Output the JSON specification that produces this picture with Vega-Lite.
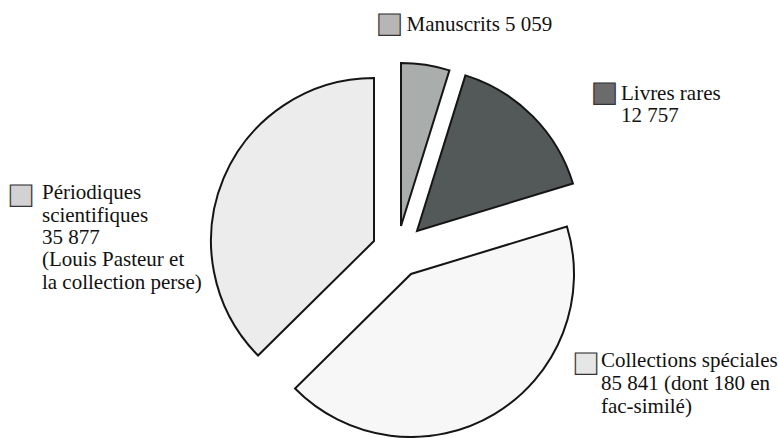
{
  "$schema": "https://vega.github.io/schema/vega-lite/v6.json",
  "width": 764,
  "height": 374,
  "autosize": {"type": "none"},
  "padding": {"left": 15, "top": 64, "right": 0, "bottom": 0},
  "background": "#ffffff",
  "config": {"view": {"stroke": null}},
  "datasets": {
    "fonds": [
      {"categorie": "Manuscrits", "valeur": 5059, "part": 4.8, "ordre": 1, "libelle": "Manuscrits 5 059"},
      {"categorie": "Livres rares", "valeur": 12757, "part": 15.5, "ordre": 2, "libelle": "Livres rares\n12 757"},
      {"categorie": "Collections spéciales", "valeur": 85841, "part": 42.3, "ordre": 3, "libelle": "Collections spéciales\n85 841 (dont 180 en\nfac-similé)"},
      {"categorie": "Périodiques scientifiques", "valeur": 35877, "part": 37.4, "ordre": 4, "libelle": "Périodiques\nscientifiques\n35 877\n(Louis Pasteur et\nla collection perse)"}
    ]
  },
  "data": {"name": "fonds"},
  "layer": [
    {
      "transform": [
        {"stack": "part", "groupby": [], "sort": [{"field": "ordre", "order": "ascending"}], "as": ["t0", "t1"]},
        {"filter": "datum.categorie === 'Manuscrits'"}
      ],
      "mark": {"type": "arc", "outerRadius": 163, "xOffset": 4, "yOffset": -25, "fill": "#a9adab", "stroke": "#151515", "strokeWidth": 2},
      "encoding": {
        "theta": {"field": "t0", "type": "quantitative", "scale": {"domain": [0, 100]}},
        "theta2": {"field": "t1"}
      }
    },
    {
      "transform": [
        {"stack": "part", "groupby": [], "sort": [{"field": "ordre", "order": "ascending"}], "as": ["t0", "t1"]},
        {"filter": "datum.categorie === 'Livres rares'"}
      ],
      "mark": {"type": "arc", "outerRadius": 163, "xOffset": 20, "yOffset": -20, "fill": "#535958", "stroke": "#151515", "strokeWidth": 2},
      "encoding": {
        "theta": {"field": "t0", "type": "quantitative", "scale": {"domain": [0, 100]}},
        "theta2": {"field": "t1"}
      }
    },
    {
      "transform": [
        {"stack": "part", "groupby": [], "sort": [{"field": "ordre", "order": "ascending"}], "as": ["t0", "t1"]},
        {"filter": "datum.categorie === 'Collections spéciales'"}
      ],
      "mark": {"type": "arc", "outerRadius": 163, "xOffset": 14, "yOffset": 23, "fill": "#f7f7f7", "stroke": "#151515", "strokeWidth": 2},
      "encoding": {
        "theta": {"field": "t0", "type": "quantitative", "scale": {"domain": [0, 100]}},
        "theta2": {"field": "t1"}
      }
    },
    {
      "transform": [
        {"stack": "part", "groupby": [], "sort": [{"field": "ordre", "order": "ascending"}], "as": ["t0", "t1"]},
        {"filter": "datum.categorie === 'Périodiques scientifiques'"}
      ],
      "mark": {"type": "arc", "outerRadius": 163, "xOffset": -23, "yOffset": -10, "fill": "#ececec", "stroke": "#151515", "strokeWidth": 2},
      "encoding": {
        "theta": {"field": "t0", "type": "quantitative", "scale": {"domain": [0, 100]}},
        "theta2": {"field": "t1"}
      }
    },
    {
      "mark": {"type": "text", "radius": 200, "text": "■", "font": "DejaVu Sans", "fontSize": 28, "align": "center", "baseline": "middle", "dx": -37.5, "dy": -28.8, "fill": "#b6b6b6", "stroke": "#333333", "strokeWidth": 1.2},
      "encoding": {
        "theta": {"field": "part", "type": "quantitative", "stack": true, "scale": {"domain": [0, 100]}},
        "order": {"field": "ordre"},
        "opacity": {"condition": {"test": "datum.categorie === 'Manuscrits'", "value": 1}, "value": 0}
      }
    },
    {
      "mark": {"type": "text", "radius": 200, "text": "■", "font": "DejaVu Sans", "fontSize": 28, "align": "center", "baseline": "middle", "dx": 65.6, "dy": -17.2, "fill": "#6b6b6b", "stroke": "#333333", "strokeWidth": 1.2},
      "encoding": {
        "theta": {"field": "part", "type": "quantitative", "stack": true, "scale": {"domain": [0, 100]}},
        "order": {"field": "ordre"},
        "opacity": {"condition": {"test": "datum.categorie === 'Livres rares'", "value": 1}, "value": 0}
      }
    },
    {
      "mark": {"type": "text", "radius": 200, "text": "■", "font": "DejaVu Sans", "fontSize": 28, "align": "center", "baseline": "middle", "dx": 86.6, "dy": -60.3, "fill": "#e6e6e6", "stroke": "#333333", "strokeWidth": 1.2},
      "encoding": {
        "theta": {"field": "part", "type": "quantitative", "stack": true, "scale": {"domain": [0, 100]}},
        "order": {"field": "ordre"},
        "opacity": {"condition": {"test": "datum.categorie === 'Collections spéciales'", "value": 1}, "value": 0}
      }
    },
    {
      "mark": {"type": "text", "radius": 200, "text": "■", "font": "DejaVu Sans", "fontSize": 28, "align": "center", "baseline": "middle", "dx": -191.5, "dy": 21.6, "fill": "#d2d2d2", "stroke": "#333333", "strokeWidth": 1.2},
      "encoding": {
        "theta": {"field": "part", "type": "quantitative", "stack": true, "scale": {"domain": [0, 100]}},
        "order": {"field": "ordre"},
        "opacity": {"condition": {"test": "datum.categorie === 'Périodiques scientifiques'", "value": 1}, "value": 0}
      }
    },
    {
      "mark": {"type": "text", "radius": 200, "font": "Liberation Serif", "fontSize": 21, "lineHeight": 22.4, "lineBreak": "\n", "align": "left", "baseline": "alphabetic", "dx": -20.5, "dy": -22.6, "fill": "#111111"},
      "encoding": {
        "theta": {"field": "part", "type": "quantitative", "stack": true, "scale": {"domain": [0, 100]}},
        "order": {"field": "ordre"},
        "text": {"condition": {"test": "datum.categorie === 'Manuscrits'", "field": "libelle", "type": "nominal"}, "value": ""}
      }
    },
    {
      "mark": {"type": "text", "radius": 200, "font": "Liberation Serif", "fontSize": 21, "lineHeight": 22.4, "lineBreak": "\n", "align": "left", "baseline": "alphabetic", "dx": 82.1, "dy": -10, "fill": "#111111"},
      "encoding": {
        "theta": {"field": "part", "type": "quantitative", "stack": true, "scale": {"domain": [0, 100]}},
        "order": {"field": "ordre"},
        "text": {"condition": {"test": "datum.categorie === 'Livres rares'", "field": "libelle", "type": "nominal"}, "value": ""}
      }
    },
    {
      "mark": {"type": "text", "radius": 200, "font": "Liberation Serif", "fontSize": 21, "lineHeight": 22.8, "lineBreak": "\n", "align": "left", "baseline": "alphabetic", "dx": 101.6, "dy": -55.5, "fill": "#111111"},
      "encoding": {
        "theta": {"field": "part", "type": "quantitative", "stack": true, "scale": {"domain": [0, 100]}},
        "order": {"field": "ordre"},
        "text": {"condition": {"test": "datum.categorie === 'Collections spéciales'", "field": "libelle", "type": "nominal"}, "value": ""}
      }
    },
    {
      "mark": {"type": "text", "radius": 200, "font": "Liberation Serif", "fontSize": 21, "lineHeight": 22.3, "lineBreak": "\n", "align": "left", "baseline": "alphabetic", "dx": -170.5, "dy": 25.6, "fill": "#111111"},
      "encoding": {
        "theta": {"field": "part", "type": "quantitative", "stack": true, "scale": {"domain": [0, 100]}},
        "order": {"field": "ordre"},
        "text": {"condition": {"test": "datum.categorie === 'Périodiques scientifiques'", "field": "libelle", "type": "nominal"}, "value": ""}
      }
    }
  ]
}
